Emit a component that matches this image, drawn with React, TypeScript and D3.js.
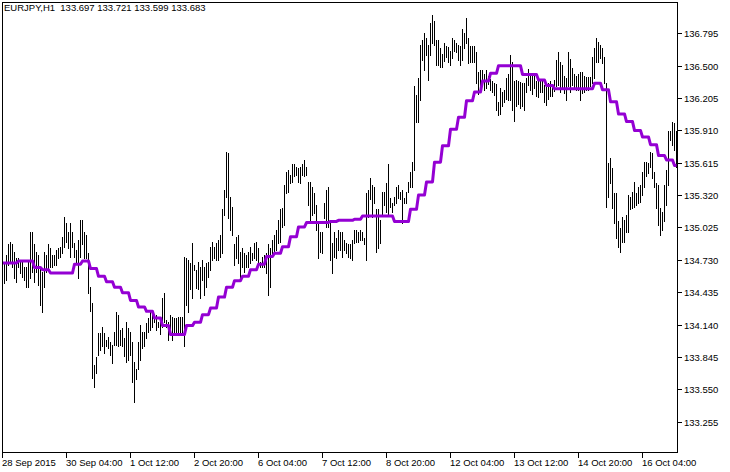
import React, { useEffect, useRef } from "react";
import * as d3 from "d3";

const chartTitle = "EURJPY,H1  133.697 133.721 133.599 133.683";

// H1 bars, high and low
const barHigh = [
  134.70, 134.70, 134.77, 134.87, 134.89, 134.87, 134.80, 134.75, 134.75, 134.73,
  134.71, 134.66, 134.66, 134.71, 134.98, 134.98, 134.87, 134.80, 134.77, 134.66,
  134.62, 134.80, 134.77, 134.87, 134.84, 134.77, 134.77, 134.82, 134.84, 134.85,
  134.94, 135.12, 135.07, 134.98, 135.07, 134.98, 134.88, 134.82, 134.91, 135.09,
  135.09, 134.98, 134.96, 134.79, 134.48, 134.34, 133.77, 133.84, 134.06, 134.06,
  134.12, 134.06, 134.00, 134.03, 133.98, 133.95, 134.07, 134.25, 134.23, 134.09,
  134.11, 134.02, 134.16, 134.11, 134.07, 133.98, 133.80, 133.73, 133.98, 134.14,
  134.07, 134.07, 134.15, 134.20, 134.25, 134.25, 134.21, 134.23, 134.16, 134.16,
  134.38, 134.43, 134.18, 134.16, 134.23, 134.21, 134.20, 134.20, 134.21, 134.21,
  134.21, 134.76, 134.75, 134.73, 134.70, 134.88, 134.68, 134.64, 134.71, 134.66,
  134.73, 134.66, 134.70, 134.71, 134.85, 134.89, 134.85, 134.88, 134.91, 134.96,
  135.19, 135.37, 135.71, 135.70, 135.30, 135.21, 134.87, 134.94, 134.96, 134.80,
  134.84, 134.79, 134.77, 134.80, 134.85, 134.79, 134.88, 134.89, 134.84, 134.71,
  134.76, 134.77, 134.79, 134.87, 134.84, 134.91, 134.96, 135.00, 135.09, 135.19,
  135.20, 135.41, 135.53, 135.55, 135.50, 135.60, 135.60, 135.58, 135.57, 135.58,
  135.60, 135.64, 135.58, 135.44, 135.44, 135.39, 135.34, 135.23, 135.08, 134.98,
  134.98, 135.25, 135.37, 135.39, 135.07, 134.88, 134.98, 134.93, 135.00, 134.98,
  134.98, 134.91, 134.88, 134.87, 134.87, 134.91, 135.00, 135.00, 134.98, 135.00,
  134.98, 134.93, 135.34, 135.37, 135.48, 135.41, 135.39, 135.19, 135.19, 135.09,
  135.35, 135.35, 135.43, 135.60, 135.29, 135.25, 135.30, 135.39, 135.41, 135.35,
  135.37, 135.29, 135.35, 135.44, 135.53, 135.62, 136.31, 136.23, 136.39, 136.69,
  136.73, 136.80, 136.75, 136.69, 136.89, 136.96, 136.91, 136.73, 136.73, 136.66,
  136.61, 136.71, 136.68, 136.67, 136.63, 136.75, 136.73, 136.71, 136.69, 136.68,
  136.83, 136.80, 136.93, 136.75, 136.68, 136.68, 136.68, 136.62, 136.44, 136.46,
  136.46, 136.42, 136.46, 136.41, 136.38, 136.36, 136.34, 136.33, 136.17, 136.30,
  136.26, 136.28, 136.39, 136.42, 136.60, 136.53, 136.36, 136.37, 136.36, 136.35,
  136.34, 136.34, 136.39, 136.47, 136.42, 136.43, 136.41, 136.36, 136.36, 136.36,
  136.36, 136.32, 136.31, 136.34, 136.36, 136.33, 136.37, 136.55, 136.62, 136.53,
  136.51, 136.41, 136.39, 136.62, 136.56, 136.48, 136.42, 136.41, 136.42, 136.44,
  136.44, 136.41, 136.40, 136.40, 136.40, 136.58, 136.66, 136.75, 136.72, 136.69,
  136.66, 136.58, 136.34, 135.61, 135.66, 135.57, 135.34, 135.34, 135.08, 135.02,
  135.12, 135.09, 135.14, 135.32, 135.30, 135.35, 135.44, 135.34, 135.39, 135.41,
  135.53, 135.62, 135.62, 135.61, 135.71, 135.70, 135.53, 135.43, 135.41, 135.20,
  135.17, 135.41, 135.55, 135.90, 135.90, 135.99, 135.98, 135.90,
];

const barLow = [
  134.52, 134.52, 134.55, 134.68, 134.71, 134.66, 134.56, 134.53, 134.66, 134.61,
  134.57, 134.55, 134.48, 134.48, 134.56, 134.62, 134.53, 134.62, 134.50, 134.32,
  134.25, 134.48, 134.62, 134.64, 134.66, 134.66, 134.68, 134.68, 134.75, 134.76,
  134.79, 134.85, 134.89, 134.84, 134.76, 134.85, 134.76, 134.71, 134.56, 134.76,
  134.87, 134.75, 134.75, 134.43, 134.26, 133.65, 133.57, 133.70, 133.86, 133.91,
  133.94, 133.88, 133.94, 133.93, 133.86, 133.79, 133.95, 133.95, 133.94, 133.95,
  133.94, 133.85, 133.80, 133.82, 133.86, 133.62, 133.43, 133.64, 133.73, 133.82,
  133.93, 133.94, 134.02, 134.07, 134.09, 134.12, 134.16, 134.09, 134.12, 134.05,
  134.12, 134.16, 134.12, 134.00, 134.06, 134.00, 134.06, 134.07, 134.07, 134.06,
  134.07, 133.94, 134.32, 134.25, 134.46, 134.38, 134.64, 134.47, 134.46, 134.38,
  134.55, 134.41, 134.48, 134.57, 134.64, 134.73, 134.75, 134.73, 134.73, 134.76,
  134.79, 135.14, 135.30, 135.11, 135.00, 134.96, 134.68, 134.75, 134.70, 134.56,
  134.66, 134.62, 134.66, 134.66, 134.70, 134.73, 134.75, 134.73, 134.70, 134.66,
  134.66, 134.66, 134.61, 134.41, 134.48, 134.77, 134.79, 134.82, 134.88, 134.89,
  135.03, 135.05, 135.34, 135.35, 135.43, 135.44, 135.49, 135.50, 135.44, 135.43,
  135.50, 135.49, 135.50, 135.23, 135.09, 135.14, 135.16, 135.00, 134.75, 134.80,
  134.79, 135.11, 135.03, 135.03, 134.73, 134.61, 134.76, 134.75, 134.82, 134.82,
  134.76, 134.82, 134.79, 134.76, 134.75, 134.73, 134.88, 134.89, 134.89, 134.91,
  134.91, 134.87, 134.73, 135.12, 135.28, 135.12, 135.25, 134.80, 134.84, 134.88,
  135.14, 135.23, 135.17, 135.14, 135.21, 135.17, 135.23, 135.25, 135.29, 135.28,
  135.07, 135.25, 135.25, 135.35, 135.39, 135.39, 135.55, 135.99, 135.99, 136.19,
  136.55, 136.46, 136.60, 136.37, 136.60, 136.71, 136.69, 136.51, 136.51, 136.49,
  136.49, 136.54, 136.58, 136.53, 136.51, 136.57, 136.63, 136.62, 136.55, 136.51,
  136.55, 136.66, 136.71, 136.52, 136.53, 136.53, 136.53, 136.34, 136.24, 136.28,
  136.33, 136.28, 136.30, 136.33, 136.28, 136.26, 136.23, 136.10, 136.05, 136.06,
  136.13, 136.17, 136.20, 136.19, 136.19, 136.10, 136.00, 136.13, 136.15, 136.11,
  136.13, 136.10, 136.26, 136.32, 136.28, 136.24, 136.30, 136.22, 136.21, 136.26,
  136.26, 136.17, 136.14, 136.20, 136.22, 136.22, 136.27, 136.31, 136.32, 136.26,
  136.30, 136.25, 136.19, 136.31, 136.26, 136.32, 136.30, 136.28, 136.28, 136.19,
  136.25, 136.26, 136.28, 136.28, 136.31, 136.34, 136.39, 136.53, 136.53, 136.57,
  136.52, 136.34, 135.21, 135.30, 135.43, 135.20, 135.07, 134.93, 134.85, 134.80,
  134.89, 134.89, 134.98, 134.98, 135.19, 135.20, 135.21, 135.23, 135.25, 135.26,
  135.32, 135.39, 135.49, 135.52, 135.58, 135.48, 135.39, 135.20, 135.05, 134.96,
  135.00, 135.08, 135.23, 135.41, 135.82, 135.78, 135.73, 135.58,
];

// H4 moving average, one value per H4 bar (4 H1 bars each)
const maH4 = [
  134.70, 134.70, 134.72, 134.72, 134.66, 134.64, 134.61, 134.61, 134.61, 134.69,
  134.72, 134.65, 134.58, 134.53, 134.48, 134.43, 134.36, 134.30, 134.26, 134.20,
  134.13, 134.05, 134.05, 134.13, 134.16, 134.23, 134.29, 134.39, 134.48, 134.54,
  134.58, 134.64, 134.69, 134.76, 134.79, 134.85, 134.94, 135.03, 135.07, 135.07,
  135.07, 135.08, 135.09, 135.09, 135.10, 135.13, 135.13, 135.13, 135.13, 135.08,
  135.08, 135.19, 135.32, 135.44, 135.62, 135.77, 135.92, 136.03, 136.18, 136.26,
  136.36, 136.43, 136.50, 136.50, 136.50, 136.42, 136.42, 136.37, 136.32, 136.29,
  136.29, 136.29, 136.29, 136.29, 136.34, 136.28, 136.17, 136.06, 135.99, 135.91,
  135.85, 135.78, 135.68, 135.64, 135.59,
];

const priceTicks = [
  136.795, 136.5, 136.205, 135.91, 135.615, 135.32, 135.025,
  134.73, 134.435, 134.14, 133.845, 133.55, 133.255,
];

const timeLabels = [
  "28 Sep 2015", "30 Sep 04:00", "1 Oct 12:00", "2 Oct 20:00", "6 Oct 04:00",
  "7 Oct 12:00", "8 Oct 20:00", "12 Oct 04:00", "13 Oct 12:00", "14 Oct 20:00",
  "16 Oct 04:00",
];
const barsPerLabel = 32;

const font = "'Liberation Sans', Arial, sans-serif";

const App: React.FC = () => {
  const chartRef = useRef<SVGSVGElement | null>(null);

  useEffect(() => {
    const width = 730;
    const height = 472;
    const frame = { left: 2.5, top: 2.5, right: 677.5, bottom: 452.5 };

    const svg = d3.select(chartRef.current);
    svg.selectAll("*").remove();
    svg.attr("width", width).attr("height", height);

    svg.append("rect").attr("width", width).attr("height", height).attr("fill", "white");

    // 2px per H1 bar, like the terminal's zoom step
    const x = d3
      .scaleLinear()
      .domain([0, barHigh.length - 1])
      .range([frame.left, frame.left + 2 * (barHigh.length - 1)]);

    const y = d3.scaleLinear().domain([133.255, 136.795]).range([421.6, 33.3]);

    // bars
    svg
      .append("g")
      .attr("shape-rendering", "crispEdges")
      .selectAll("line")
      .data(barHigh)
      .join("line")
      .attr("x1", (_d, i) => x(i))
      .attr("x2", (_d, i) => x(i))
      .attr("y1", (d) => Math.round(y(d)))
      .attr("y2", (_d, i) => Math.round(y(barLow[i])) + 1)
      .attr("stroke", "black")
      .attr("stroke-width", 1);

    // moving average, stepped per H4 bar
    const maPoints = barHigh.map((_d, i) => ({ i, v: maH4[Math.floor(i / 4)] }));
    svg
      .append("path")
      .datum(maPoints)
      .attr("fill", "none")
      .attr("stroke", "#9400d3")
      .attr("stroke-width", 3)
      .attr("stroke-linejoin", "round")
      .attr(
        "d",
        d3
          .line<{ i: number; v: number }>()
          .x((d) => x(d.i))
          .y((d) => y(d.v))
      );

    // frame
    svg
      .append("rect")
      .attr("x", frame.left)
      .attr("y", frame.top)
      .attr("width", frame.right - frame.left)
      .attr("height", frame.bottom - frame.top)
      .attr("fill", "none")
      .attr("stroke", "black")
      .attr("shape-rendering", "crispEdges");

    // price axis
    const yAxis = svg.append("g").attr("font-family", font).attr("font-size", "9.5px");
    priceTicks.forEach((p) => {
      const py = Math.round(y(p)) + 0.5;
      yAxis
        .append("line")
        .attr("x1", frame.right)
        .attr("x2", frame.right + 4)
        .attr("y1", py)
        .attr("y2", py)
        .attr("stroke", "black")
        .attr("shape-rendering", "crispEdges");
      yAxis
        .append("text")
        .attr("x", frame.right + 6.5)
        .attr("y", py + 3.5)
        .attr("fill", "black")
        .text(p.toFixed(3));
    });

    // time axis
    const xAxis = svg.append("g").attr("font-family", font).attr("font-size", "9.5px");
    timeLabels.forEach((label, k) => {
      const tx = x(k * barsPerLabel);
      xAxis
        .append("line")
        .attr("x1", tx)
        .attr("x2", tx)
        .attr("y1", frame.bottom)
        .attr("y2", frame.bottom + 5)
        .attr("stroke", "black")
        .attr("shape-rendering", "crispEdges");
      xAxis
        .append("text")
        .attr("x", Math.max(1, tx - 0.5))
        .attr("y", 466)
        .attr("fill", "black")
        .text(label);
    });

    svg
      .append("text")
      .attr("x", 4)
      .attr("y", 11)
      .attr("font-family", font)
      .attr("font-size", "9.5px")
      .attr("fill", "black")
      .attr("xml:space", "preserve")
      .style("white-space", "pre")
      .text(chartTitle);
  }, []);

  return (
    <div style={{ position: "absolute", left: 0, top: 0 }}>
      <svg ref={chartRef} style={{ display: "block" }} />
    </div>
  );
};

export default App;
